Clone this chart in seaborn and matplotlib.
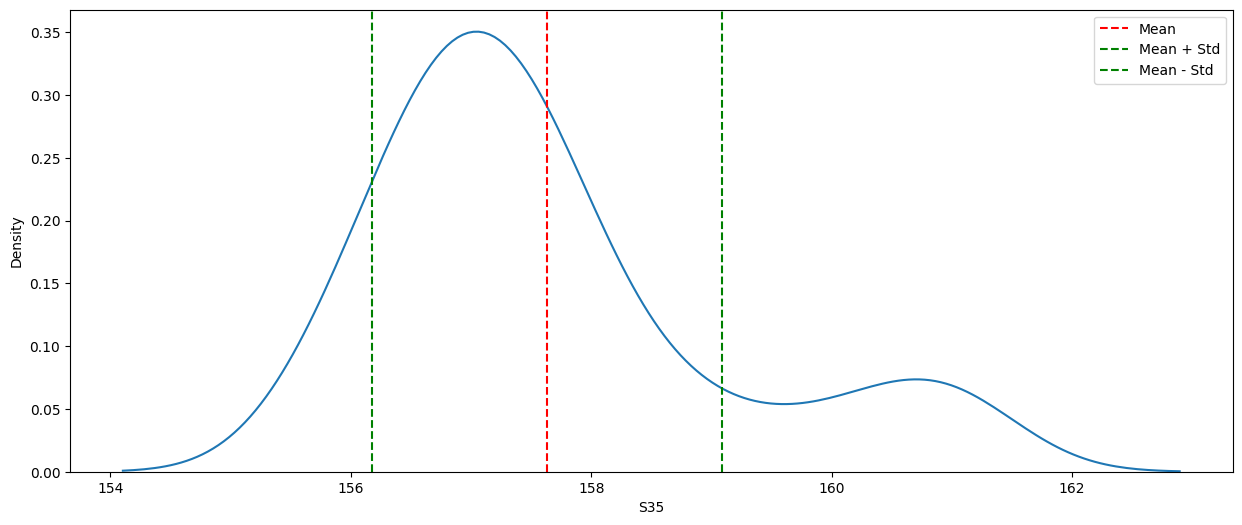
import numpy as np
import pandas as pd
import seaborn as sns
import matplotlib.pyplot as plt

# S35 readings, grouped as value -> number of occurrences
s35_values = [155.5, 155.7, 155.9, 156.1, 156.3, 156.5, 156.7, 156.9, 157.1, 157.3,
              157.5, 157.7, 157.9, 158.1, 158.3, 158.5, 158.7, 158.9, 159.1, 159.3,
              159.5, 159.7, 159.9, 160.1, 160.3, 160.5, 160.7, 160.9, 161.1, 161.3,
              161.5]
s35_counts = [3, 3, 4, 6, 8, 10, 12, 12, 12, 12,
              11, 9, 7, 5, 3, 2, 3, 2, 1, 1,
              2, 1, 1, 2, 2, 2, 3, 3, 3, 2,
              1]

df = pd.DataFrame({'S35': np.repeat(s35_values, s35_counts)})

mean = df['S35'].mean()
std = df['S35'].std()

plt.figure(figsize=(15, 6))
sns.kdeplot(data=df, x='S35', cut=2.6)
plt.axvline(mean, color='red', linestyle='--', label='Mean')
plt.axvline(mean + std, color='green', linestyle='--', label='Mean + Std')
plt.axvline(mean - std, color='green', linestyle='--', label='Mean - Std')
plt.legend()
plt.savefig('out.png', dpi=100, bbox_inches='tight')
